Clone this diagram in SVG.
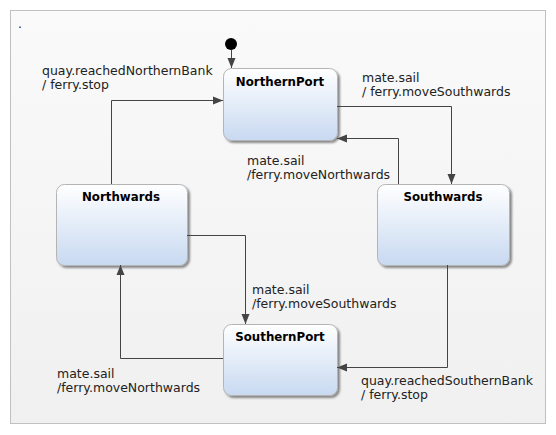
<svg xmlns="http://www.w3.org/2000/svg" width="556" height="435" viewBox="0 0 556 435">
<defs>
<linearGradient id="bg" x1="0" y1="0" x2="0" y2="1">
<stop offset="0" stop-color="#fafafa"/>
<stop offset="1" stop-color="#f0f0f0"/>
</linearGradient>
<linearGradient id="ng" x1="0" y1="0" x2="0" y2="1">
<stop offset="0" stop-color="#ffffff"/>
<stop offset="1" stop-color="#c8d9f1"/>
</linearGradient>
<filter id="sh" x="-10%" y="-10%" width="130%" height="130%">
<feGaussianBlur in="SourceAlpha" stdDeviation="1.2"/>
<feOffset dx="2" dy="2" result="b"/>
<feComponentTransfer><feFuncA type="linear" slope="0.45"/></feComponentTransfer>
<feMerge><feMergeNode/><feMergeNode in="SourceGraphic"/></feMerge>
</filter>
<marker id="ar" viewBox="0 0 10 10" refX="10" refY="5" markerWidth="10" markerHeight="10" markerUnits="userSpaceOnUse" orient="auto">
<path d="M0,1 L10,5 L0,9 Z" fill="#444"/>
</marker>
</defs>
<style>
.node rect{fill:url(#ng);stroke:#b4b4b4;stroke-width:1;filter:url(#sh)}
.title{font-family:"DejaVu Sans",Verdana,sans-serif;font-size:11.8px;font-weight:bold;fill:#000;text-anchor:middle}
.lbl{font-family:"DejaVu Sans",Verdana,sans-serif;font-size:12.5px;fill:#222}
.edges path{fill:none;stroke:#444;stroke-width:1;marker-end:url(#ar)}
</style>
<rect x="10.5" y="10.5" width="535" height="413" fill="url(#bg)" stroke="#c0c0c0"/>
<text x="18" y="28" class="lbl">.</text>

<g id="initial"><circle cx="231" cy="44" r="6" fill="#000"/></g>

<g id="NorthernPort" class="node"><rect x="223.5" y="68.5" width="114" height="72" rx="8"/><text x="280" y="86" class="title">NorthernPort</text></g>
<g id="Northwards" class="node"><rect x="56.5" y="184.5" width="131" height="81" rx="8"/><text x="121" y="201" class="title">Northwards</text></g>
<g id="Southwards" class="node"><rect x="377.5" y="184.5" width="132" height="81" rx="8"/><text x="443" y="201" class="title">Southwards</text></g>
<g id="SouthernPort" class="node"><rect x="223.5" y="324.5" width="114" height="71" rx="8"/><text x="280" y="341" class="title">SouthernPort</text></g>

<g id="connectors" class="edges">
<path d="M231.5,50 V68"/>
<path d="M111.5,184 V100.5 H223"/>
<path d="M337,106.5 H451.5 V184"/>
<path d="M398.5,184 V138.5 H337"/>
<path d="M187,235.5 H245.5 V324"/>
<path d="M447.5,265 V367.5 H337"/>
<path d="M223,358.5 H120.5 V265"/>
</g>

<g id="labels">
<text class="lbl" x="42" y="74.5">quay.reachedNorthernBank</text>
<text class="lbl" x="42" y="88.5">/ ferry.stop</text>
<text class="lbl" x="362" y="81.5">mate.sail</text>
<text class="lbl" x="362" y="95.5">/ ferry.moveSouthwards</text>
<text class="lbl" x="247" y="164.5">mate.sail</text>
<text class="lbl" x="247" y="178.5">/ferry.moveNorthwards</text>
<text class="lbl" x="252" y="293.5">mate.sail</text>
<text class="lbl" x="252" y="307.5">/ferry.moveSouthwards</text>
<text class="lbl" x="57" y="377.5">mate.sail</text>
<text class="lbl" x="57" y="391.5">/ferry.moveNorthwards</text>
<text class="lbl" x="361" y="384.5">quay.reachedSouthernBank</text>
<text class="lbl" x="361" y="398.5">/ ferry.stop</text>
</g>
</svg>
